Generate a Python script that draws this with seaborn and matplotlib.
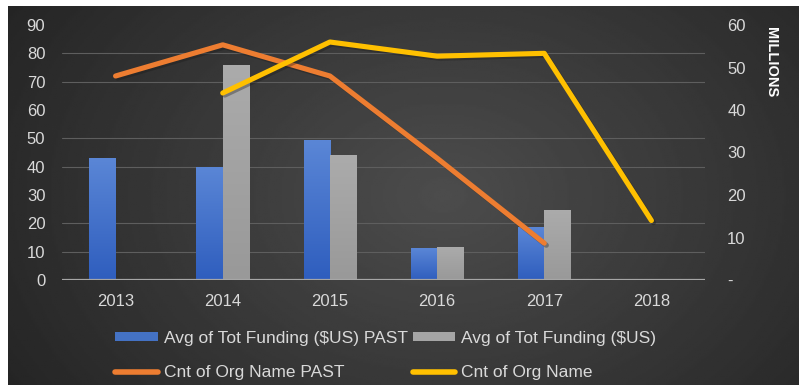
import numpy as np
import pandas as pd
import matplotlib
matplotlib.use("Agg")
import matplotlib.pyplot as plt
import matplotlib.patheffects as pe
import matplotlib.colors as mcolors
import seaborn as sns
from matplotlib.lines import Line2D
from matplotlib.patches import Patch

# ---- data -------------------------------------------------------------
years = ["2013", "2014", "2015", "2016", "2017", "2018"]
funding_past = [28.7, 26.7, 32.9, 7.5, 12.4, 0.0]      # millions of $US
funding_now = [0.0, 50.7, 29.3, 7.8, 16.4, 0.2]        # millions of $US
count_past = [72, 83, 72, 43, 13, np.nan]
count_now = [np.nan, 66, 84, 79, 80, 21]

bar_names = ["Avg of Tot Funding ($US) PAST", "Avg of Tot Funding ($US)"]
line_names = ["Cnt of Org Name PAST", "Cnt of Org Name"]
left_ticks = list(range(0, 91, 10))
right_ticks = list(range(0, 61, 10))
right_labels = ["-"] + [str(v) for v in right_ticks[1:]]

BLUE, GREY = "#4472C4", "#A5A5A5"
BLUE_TOP, BLUE_BOT = "#5A86D6", "#2F5EBE"
GREY_TOP, GREY_BOT = "#ABABAB", "#999999"
ORANGE, YELLOW = "#ED7D31", "#FFC000"
TXT = "#D9D9D9"

sns.set_theme(style="dark")
plt.rcParams["font.family"] = ["Liberation Sans", "DejaVu Sans"]

fig = plt.figure(figsize=(7.99, 3.85), dpi=100, facecolor="white")

# dark vignette background
bg = fig.add_axes([8 / 799, 0, 791 / 799, 1 - 6 / 385], zorder=-10)
gx, gy = np.meshgrid(np.linspace(0, 1, 400), np.linspace(0, 1, 200))
dist = np.sqrt(((gx - 0.55) / 0.62) ** 2 + ((gy - 0.5) / 0.95) ** 2)
shade = np.clip(0.30 - 0.15 * dist, 0.13, 0.31)
bg.imshow(shade, cmap="gray", vmin=0, vmax=1, aspect="auto", extent=[0, 1, 0, 1])
bg.axis("off")

ax = fig.add_axes([62 / 799, 1 - 280 / 385, (705 - 62) / 799, (280 - 25) / 385])
ax2 = ax.twinx()
ax.set_zorder(ax2.get_zorder() + 1)
ax.patch.set_visible(False)
ax2.patch.set_visible(False)

# bars: funding on the millions axis
bars = pd.DataFrame({
    "year": years * 2,
    "value": funding_past + funding_now,
    "series": [bar_names[0]] * len(years) + [bar_names[1]] * len(years),
})
sns.barplot(data=bars, x="year", y="value", hue="series", order=years,
            hue_order=bar_names, palette=[BLUE, GREY], saturation=1,
            width=0.49, gap=0, legend=False, ax=ax2, zorder=3,
            edgecolor="none", linewidth=0)

ax2.set_xlim(-0.5, 5.5)
ax2.set_ylim(0, 60)

# vertical shading inside each bar
for i, p in enumerate(list(ax2.patches)):
    h = p.get_height()
    if h <= 0:
        continue
    top, bot = (BLUE_TOP, BLUE_BOT) if i < len(years) else (GREY_TOP, GREY_BOT)
    cmap = mcolors.LinearSegmentedColormap.from_list("bar", [bot, top])
    x0, w = p.get_x(), p.get_width()
    im = ax2.imshow(np.linspace(0, 1, 64).reshape(-1, 1), cmap=cmap, origin="lower",
                    aspect="auto", extent=[x0, x0 + w, 0, h], zorder=3.5,
                    interpolation="bilinear")
    im.set_clip_path(p)
ax2.set_xlim(-0.5, 5.5)
ax2.set_ylim(0, 60)

# lines: counts on the left axis
xpos = np.arange(len(years))
shadow = [pe.SimpleLineShadow(offset=(1.5, -1.5), alpha=0.35), pe.Normal()]
for vals, col in [(count_past, ORANGE), (count_now, YELLOW)]:
    sns.lineplot(x=xpos, y=vals, ax=ax, color=col, linewidth=3.7,
                 solid_capstyle="round", solid_joinstyle="round",
                 path_effects=shadow)

ax.set_xlim(-0.5, 5.5)
ax.set_ylim(0, 90)
ax.set_yticks(left_ticks)
ax2.set_yticks(right_ticks)
ax2.set_yticklabels(right_labels)
ax.set_xticks(xpos)
ax.set_xticklabels(years)
for a in (ax, ax2):
    a.set_xlabel("")
    a.set_ylabel("")

# gridlines behind the bars, at the left-axis tick positions
ax.grid(False)
ax2.grid(False)
ax2.set_yticks([v * 60 / 90 for v in left_ticks], minor=True)
ax2.grid(True, which="minor", axis="y", color="#5E5E5E", linewidth=0.8, zorder=0)
ax2.set_axisbelow(True)

for a in (ax, ax2):
    for s in a.spines.values():
        s.set_visible(False)
ax2.axhline(0, color="#A6A6A6", linewidth=1.6, zorder=4)

ax.tick_params(axis="y", colors=TXT, labelsize=12, length=0, pad=12)
ax.tick_params(axis="x", colors=TXT, labelsize=12, length=0, pad=10, labelbottom=True)
ax2.tick_params(axis="y", which="both", colors=TXT, labelsize=12, length=0, pad=16)

fig.text(771 / 799, 1 - 62 / 385, "MILLIONS", rotation=270, ha="center", va="center",
         color="white", fontsize=10.5, fontweight="bold")

handles = [
    Patch(facecolor=BLUE, edgecolor="none"),
    Line2D([], [], color=ORANGE, linewidth=4, solid_capstyle="round"),
    Patch(facecolor=GREY, edgecolor="none"),
    Line2D([], [], color=YELLOW, linewidth=4, solid_capstyle="round"),
]
labels = [bar_names[0], line_names[0], bar_names[1], line_names[1]]
leg = fig.legend(handles, labels, ncol=2, loc="upper left",
                 bbox_to_anchor=(115 / 799, 1 - 331 / 385), frameon=False,
                 fontsize=12.5, labelcolor=TXT, handlelength=2.45, handleheight=0.45,
                 handletextpad=0.35, columnspacing=0.3, labelspacing=1.1,
                 borderpad=0, borderaxespad=0)

fig.savefig("out.png", dpi=100, facecolor=fig.get_facecolor())
